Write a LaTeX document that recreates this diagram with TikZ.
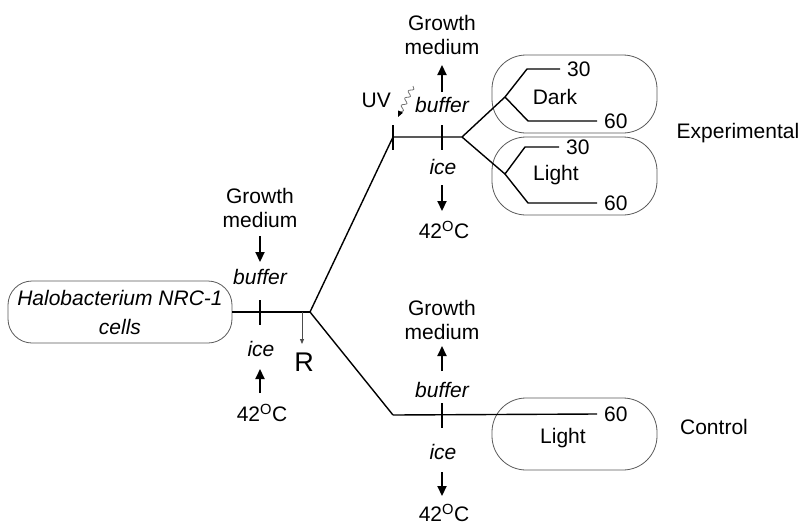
\documentclass[tikz,border=0pt]{standalone}
\usepackage{fontspec}
\setmainfont{Liberation Sans}
\usetikzlibrary{arrows.meta,decorations.pathmorphing}
\begin{document}
\begin{tikzpicture}[x=1pt,y=-1pt,
 lbl/.style={font=\fontsize{21}{24}\selectfont, inner sep=0pt, align=center},
 itl/.style={font=\fontsize{21}{24}\selectfont\itshape, inner sep=0pt, align=center},
 flow/.style={line width=1.4pt},
 tickmark/.style={line width=1.2pt},
 bigarrow/.style={line width=2.2pt, -{Triangle[length=10pt,width=9pt]}},
 rbox/.style={draw=black!65, line width=0.8pt, rounded corners=34pt, minimum width=165pt, minimum height=78pt, inner sep=0pt}
]
\useasboundingbox (0,0) rectangle (804,528);

% ---- start node
\node[draw=black!65, line width=0.8pt, rounded corners=24pt, minimum width=224pt, minimum height=62pt,
      font=\fontsize{21}{29}\selectfont\itshape, align=center, inner sep=0pt] (cells) at (120,312)
      {Halobacterium NRC-1\\cells};

% ---- main skeleton
\coordinate (b1) at (310,312);
\coordinate (up) at (393,137);
\coordinate (fork) at (462,137);
\coordinate (lo) at (393,415);
\coordinate (ra) at (302,312);
\coordinate (rb) at (302,344);
\draw[flow] (cells.east) -- (b1);
\draw[flow] (b1) -- (up) -- (fork);
\draw[flow] (b1) -- (lo);

% ticks
\draw[tickmark] (260,300) -- (260,325);
\draw[tickmark] (393,125) -- (393,150);
\draw[tickmark] (442,125) -- (442,150);
\draw[tickmark] (442,403) -- (442,428);

% ---- left group
\node[lbl] (gm1) at (260,208) {Growth\\medium};
\draw[bigarrow] (260,236) -- (260,262);
\node[itl] (bf1) at (260,277) {buffer};
\node[itl] (ic1) at (261,349) {ice};
\draw[bigarrow] (260,393) -- (260,369);
\node[lbl] (t1) at (262,413) {42\textsuperscript{O}C};

% R
\node[font=\fontsize{27}{30}\selectfont, inner sep=0pt] (R) at (304,362) {R};
\draw[draw=black!70, line width=0.8pt, -{Triangle[length=5pt,width=4pt]}] (ra) -- (rb);

% ---- upper group
\node[lbl] (gm2) at (442,35) {Growth\\medium};
\draw[bigarrow] (442,92) -- (442,65);
\node[itl] (bf2) at (442,105) {buffer};
\node[itl] (ic2) at (443,167) {ice};
\draw[bigarrow] (442,185) -- (442,211);
\node[lbl] (t2) at (444,230) {42\textsuperscript{O}C};
\node[lbl, anchor=east] (uv) at (391,100) {UV};
\coordinate (uvs) at (413,86);
\coordinate (uve) at (398,117);
\draw[draw=black!55, line width=0.8pt, decorate,
      decoration={snake, amplitude=2.2pt, segment length=8pt, post length=4pt},
      -{Triangle[length=6pt,width=5pt,color=black]}] (uvs) -- (uve);

% ---- experimental boxes
\node[rbox] (dbox) at (574.5,94) {};
\node[rbox] (lbox) at (574.5,176) {};
\node[lbl] (dark) at (555,97) {Dark};
\node[lbl] (light1) at (556,175) {Light};

\coordinate (fa) at (505,97);
\coordinate (fb) at (505,174);
\node[lbl, anchor=west] (n30a) at (567,69) {30};
\node[lbl, anchor=west] (n60a) at (604,121) {60};
\node[lbl, anchor=west] (n30b) at (566,147) {30};
\node[lbl, anchor=west] (n60b) at (604,203) {60};
\draw[flow] (fork) -- (fa) -- (527,69) -- ([xshift=-7pt]n30a.west);
\draw[flow] (fa) -- (528,121) -- ([xshift=-7pt]n60a.west);
\draw[flow] (fork) -- (fb) -- (525,147) -- ([xshift=-7pt]n30b.west);
\draw[flow] (fb) -- (528,203) -- ([xshift=-7pt]n60b.west);

\node[lbl] (exp) at (738,133) {Experimental};

% ---- lower group
\node[lbl] (gm3) at (442,320) {Growth\\medium};
\draw[bigarrow] (442,371) -- (442,346);
\node[itl] (bf3) at (442,390) {buffer};
\node[itl] (ic3) at (443,452) {ice};
\draw[bigarrow] (442,472) -- (442,496);
\node[lbl] (t3) at (444,513) {42\textsuperscript{O}C};

\node[rbox, minimum height=72pt] (cbox) at (574.5,434) {};
\node[lbl] (light2) at (563,438) {Light};
\node[lbl, anchor=west] (n60c) at (604,414) {60};
\draw[flow] (lo) -- ([xshift=-7pt]n60c.west);
\node[lbl] (ctrl) at (714,427) {Control};
\end{tikzpicture}
\end{document}
